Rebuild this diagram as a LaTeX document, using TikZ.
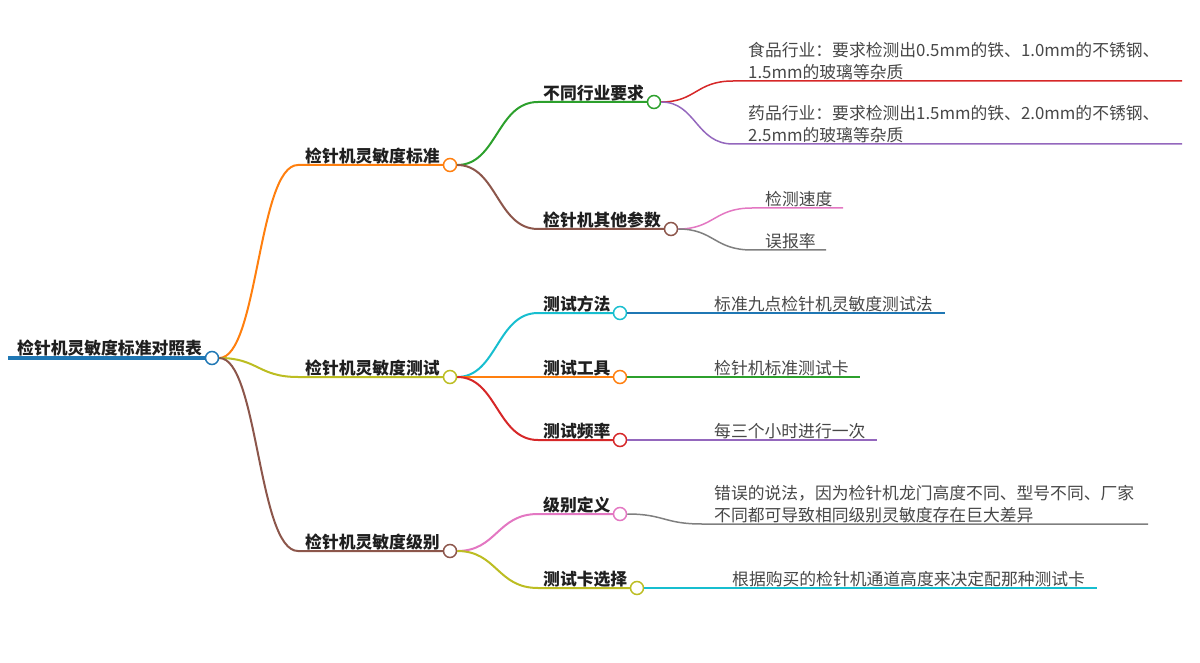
\documentclass[tikz,border=0pt]{standalone}
\usepackage{fontspec}
\setmainfont{Noto Sans CJK SC}
\definecolor{cB}{HTML}{1F77B4}
\definecolor{cO}{HTML}{FF7F0E}
\definecolor{cG}{HTML}{2CA02C}
\definecolor{cR}{HTML}{D62728}
\definecolor{cP}{HTML}{9467BD}
\definecolor{cBr}{HTML}{8C564B}
\definecolor{cPk}{HTML}{E377C2}
\definecolor{cGy}{HTML}{7F7F7F}
\definecolor{cOl}{HTML}{BCBD22}
\definecolor{cC}{HTML}{17BECF}
\begin{document}
\begin{tikzpicture}[x=1pt,y=-1pt,
  topic/.style={font=\bfseries\fontsize{16.8}{22}\selectfont, text=black!88, anchor=south west, inner sep=0pt, text depth=1.5pt},
  leaf/.style={font=\fontsize{16.8}{22}\selectfont, text=black!72, anchor=south west, inner sep=0pt, align=left, text depth=1.5pt},
  dot/.style={circle, draw, fill=white, line width=1.5pt, minimum size=13pt, inner sep=0pt},
  br/.style={line width=2pt},
  lf/.style={line width=1.5pt}]
\useasboundingbox (0,0) rectangle (1200,663);
% root
\coordinate (r0) at (8,358);
\node[dot, draw=cB, minimum size=13pt] (r) at (212,358) {};
\node[topic] (rt) at (17,356) {检针机灵敏度标准对照表};
\draw[line width=4pt, cB] (r0) -- (r.west);
% main branches
\coordinate (b1s) at (298,165);
\coordinate (b2s) at (298,377);
\coordinate (b3s) at (298,551);
\node[dot, draw=cO] (b1) at (450,165) {};
\node[dot, draw=cOl] (b2) at (450,377) {};
\node[dot, draw=cBr] (b3) at (450,551) {};
\node[topic] (b1t) at (305,164) {检针机灵敏度标准};
\node[topic] (b2t) at (305,376) {检针机灵敏度测试};
\node[topic] (b3t) at (305,550) {检针机灵敏度级别};
\draw[br, cO] (r.east) .. controls (258,358) and (258,165) .. (b1s) -- (b1.west);
\draw[br, cOl] (r.east) .. controls (258,358) and (258,377) .. (b2s) -- (b2.west);
\draw[br, cBr] (r.east) .. controls (258,358) and (258,551) .. (b3s) -- (b3.west);
% sub-branches of 1
\coordinate (s11s) at (538,102);
\coordinate (s12s) at (538,229);
\node[dot, draw=cG] (s11) at (654,102) {};
\node[dot, draw=cBr] (s12) at (671,229) {};
\node[topic] (s11t) at (543,101) {不同行业要求};
\node[topic] (s12t) at (543,228) {检针机其他参数};
\draw[br, cG] (b1.east) .. controls (497,165) and (497,102) .. (s11s) -- (s11.west);
\draw[br, cBr] (b1.east) .. controls (497,165) and (497,229) .. (s12s) -- (s12.west);
% leaves of s11
\coordinate (l111s) at (733,81);
\coordinate (l111e) at (1182,81);
\coordinate (l112s) at (733,144);
\coordinate (l112e) at (1182,144);
\node[leaf] (l111) at (748,80) {食品行业：要求检测出0.5mm的铁、1.0mm的不锈钢、\\1.5mm的玻璃等杂质};
\node[leaf] (l112) at (748,143) {药品行业：要求检测出1.5mm的铁、2.0mm的不锈钢、\\2.5mm的玻璃等杂质};
\draw[lf, cR] (s11.east) .. controls (696,102) and (696,81) .. (l111s) -- (l111e);
\draw[lf, cP] (s11.east) .. controls (696,102) and (696,144) .. (l112s) -- (l112e);
% leaves of s12
\coordinate (l121s) at (752,208);
\coordinate (l121e) at (843,208);
\coordinate (l122s) at (752,250);
\coordinate (l122e) at (826,250);
\node[leaf] (l121) at (765,207) {检测速度};
\node[leaf] (l122) at (765,249) {误报率};
\draw[lf, cPk] (s12.east) .. controls (714,229) and (714,208) .. (l121s) -- (l121e);
\draw[lf, cGy] (s12.east) .. controls (714,229) and (714,250) .. (l122s) -- (l122e);
% sub-branches of 2
\coordinate (s21s) at (538,313);
\coordinate (s23s) at (538,440);
\node[dot, draw=cC] (s21) at (620,313) {};
\node[dot, draw=cO] (s22) at (620,377) {};
\node[dot, draw=cR] (s23) at (620,440) {};
\node[topic] (s21t) at (543,312) {测试方法};
\node[topic] (s22t) at (543,376) {测试工具};
\node[topic] (s23t) at (543,439) {测试频率};
\draw[br, cC] (b2.east) .. controls (497,377) and (497,313) .. (s21s) -- (s21.west);
\draw[br, cO] (b2.east) -- (s22.west);
\draw[br, cR] (b2.east) .. controls (497,377) and (497,440) .. (s23s) -- (s23.west);
\coordinate (l21e) at (945,313);
\coordinate (l22e) at (860,377);
\coordinate (l23e) at (877,440);
\node[leaf] (l21) at (714,312) {标准九点检针机灵敏度测试法};
\node[leaf] (l22) at (714,376) {检针机标准测试卡};
\node[leaf] (l23) at (714,439) {每三个小时进行一次};
\draw[lf, cB] (s21.east) -- (l21e);
\draw[lf, cG] (s22.east) -- (l22e);
\draw[lf, cP] (s23.east) -- (l23e);
% sub-branches of 3
\coordinate (s31s) at (538,514);
\coordinate (s32s) at (538,588);
\node[dot, draw=cPk] (s31) at (620,514) {};
\node[dot, draw=cOl] (s32) at (637,588) {};
\node[topic] (s31t) at (543,513) {级别定义};
\node[topic] (s32t) at (543,587) {测试卡选择};
\draw[br, cPk] (b3.east) .. controls (497,551) and (497,514) .. (s31s) -- (s31.west);
\draw[br, cOl] (b3.east) .. controls (497,551) and (497,588) .. (s32s) -- (s32.west);
\coordinate (l31s) at (702,524);
\coordinate (l31e) at (1148,524);
\coordinate (l32e) at (1097,588);
\node[leaf] (l31) at (714,523) {错误的说法，因为检针机龙门高度不同、型号不同、厂家\\不同都可导致相同级别灵敏度存在巨大差异};
\node[leaf] (l32) at (732,587) {根据购买的检针机通道高度来决定配那种测试卡};
\draw[lf, cGy] (s31.east) .. controls (664,514) and (664,524) .. (l31s) -- (l31e);
\draw[lf, cC] (s32.east) -- (l32e);
\end{tikzpicture}
\end{document}
